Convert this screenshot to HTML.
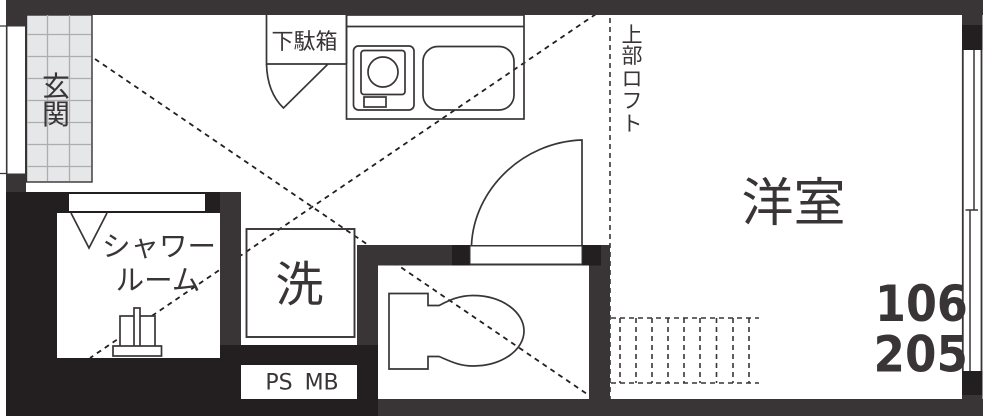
<!DOCTYPE html>
<html><head><meta charset="utf-8">
<style>
html,body{margin:0;padding:0;background:#fff}
svg{display:block}
text{font-family:"Liberation Sans","Noto Sans CJK JP",sans-serif;fill:#393536}
</style></head><body>
<svg width="992" height="416" viewBox="0 0 992 416" xmlns="http://www.w3.org/2000/svg">
<rect width="992" height="416" fill="#fff"/>
<!-- dashed diagonals -->
<g stroke="#231f20" stroke-width="1.8" stroke-dasharray="5 4.5" fill="none">
<line x1="95" y1="59" x2="587" y2="394"/>
<line x1="596" y1="14" x2="90" y2="358"/>
</g>
<!-- genkan -->
<rect x="26.5" y="15" width="65.5" height="167" fill="#e6e7e8" stroke="#333" stroke-width="1.400"/>
<g stroke="#adadad" stroke-width="1.300">
<path d="M47.5 15V181M69.5 15V181M27 34.5H91M27 56.5H91M27 78.5H91M27 100.5H91M27 122.5H91M27 144.5H91M27 166.5H91" fill="none"/>
</g>
<!-- walls -->
<g fill="#393536">
<rect x="6" y="0" width="977" height="15"/>
<rect x="6" y="0" width="20" height="26"/>
<rect x="6" y="174" width="20" height="19"/>
<rect x="220" y="192" width="21" height="153"/>
<rect x="357" y="245" width="253" height="20.500"/>
<rect x="357" y="245" width="21" height="100"/>
<rect x="589" y="245" width="21" height="155"/>
<rect x="378" y="399" width="605" height="17"/>
<rect x="962" y="0" width="20.500" height="26"/>
<rect x="962" y="395" width="20.500" height="21"/>
</g>
<g fill="#231f20">
<path d="M6 192H220V213H57V358H220V345H378V416H6Z"/>
<rect x="452" y="245" width="18" height="20.500"/>
<rect x="582" y="245" width="19" height="20.500"/>
<rect x="962" y="25" width="20.500" height="25"/>
<rect x="962" y="371" width="20.500" height="24"/>
</g>
<!-- left window -->
<rect x="7" y="26" width="18.500" height="148" fill="#fff" stroke="#393536" stroke-width="1"/>
<path d="M0 26H7M0 173.500H7M6.500 26V174" stroke="#393536" stroke-width="1.200" fill="none"/>
<!-- shower window -->
<rect x="69" y="194" width="136" height="17" fill="#fff"/>
<!-- PS box -->
<rect x="241" y="365" width="116" height="34" fill="#fff"/>
<!-- door window -->
<rect x="470" y="246" width="112" height="18" fill="#fff" stroke="#393536" stroke-width="1"/>
<!-- right window -->
<g stroke="#393536" fill="none">
<path d="M962.800 50V371M981.500 50V371" stroke-width="1.800"/>
<path d="M974 50V210M970 210V371" stroke-width="1.500"/>
<path d="M965.500 210H978" stroke-width="1.500"/>
</g>
<!-- loft dashes -->
<g stroke="#393536" stroke-width="1.600" fill="none" stroke-dasharray="5 4">
<path d="M610 18V399"/>
<path d="M611 318H759M611 383H759"/>
<path d="M620 318V383M636 318V383M652 318V383M668 318V383M684 318V383M700 318V383M716.500 318V383M733 318V383M749 318V383"/>
</g>
<g fill="none" stroke="#393536" stroke-width="1.700">
<!-- getabako -->
<path d="M266.500 15V64H346.500M346.500 15V64"/>
<path d="M266.500 64C267 83 273 98 283.500 108L328 64"/>
<!-- kitchen -->
<rect x="346.500" y="15" width="177.500" height="104"/>
<path d="M346.500 26.500H524"/>
<rect x="353.500" y="46" width="60.500" height="64" rx="5"/>
<rect x="361" y="50.500" width="44" height="44" rx="3"/>
<circle cx="383" cy="72" r="15"/>
<rect x="364" y="97" width="22" height="10"/>
<rect x="423" y="46.500" width="91" height="63.500" rx="15"/>
<!-- door -->
<path d="M471.500 245C474 190 522 142 582 140V245"/>
<!-- shower -->
<path d="M71 213L89 248L107 213"/>
<rect x="120" y="316" width="35" height="31" fill="#fff"/>
<rect x="134" y="308" width="6" height="39" fill="#fff"/>
<rect x="113" y="346" width="48.500" height="10" fill="#fff"/>
<!-- washer -->
<rect x="246.500" y="229" width="108" height="108" stroke-width="1.900"/>
<!-- toilet -->
<path d="M428 293.500H389V369H428V356.500H439C448 360 458 366 473 366C502 366 524 350 524 331C524 312 502 295.500 473 295.500C458 295.500 448 301 439 305.500H428Z"/>
</g>
<!-- labels -->
<text x="56" y="96" font-size="28" text-anchor="middle">玄</text>
<text x="56" y="124" font-size="28" text-anchor="middle">関</text>
<text x="304.500" y="49" font-size="22" text-anchor="middle">下駄箱</text>
<text x="632" y="42" font-size="21" text-anchor="middle">上</text>
<text x="632" y="63" font-size="21" text-anchor="middle">部</text>
<text x="632" y="86" font-size="21" text-anchor="middle">ロ</text>
<text x="632" y="108" font-size="21" text-anchor="middle">フ</text>
<text x="632" y="131" font-size="21" text-anchor="middle">ト</text>
<text x="793.500" y="221" font-size="52" text-anchor="middle">洋室</text>
<text x="299.500" y="301" font-size="48" text-anchor="middle">洗</text>
<text x="159" y="256" font-size="28.500" text-anchor="middle">シャワー</text>
<text x="158" y="290" font-size="28.500" text-anchor="middle">ルーム</text>
<text x="302" y="389.500" font-size="22" text-anchor="middle" style="font-family:'DejaVu Sans',sans-serif" word-spacing="5">PS MB</text>
<g font-weight="700" font-size="50">
<text transform="translate(875,321) scale(.89,1)" style="font-family:'DejaVu Sans',sans-serif">106</text>
<text transform="translate(873.500,371.500) scale(.905,1)" style="font-family:'DejaVu Sans',sans-serif">205</text>
</g>
</svg>
</body></html>
